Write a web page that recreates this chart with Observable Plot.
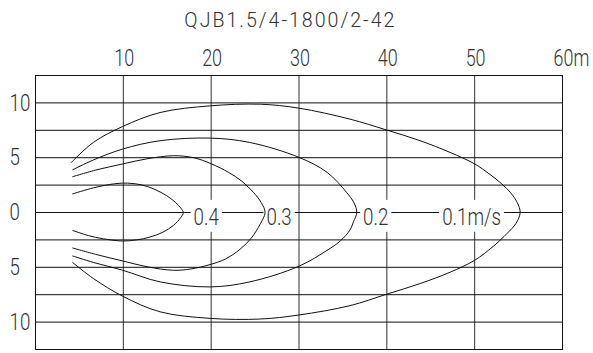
<!DOCTYPE html>
<html>
<head>
<meta charset="utf-8">
<script src="https://cdn.jsdelivr.net/npm/d3@7"></script>
<script src="https://cdn.jsdelivr.net/npm/@observablehq/plot@0.6"></script>
<style>
  html, body { margin: 0; padding: 0; background: #fff; }
  #title {
    width: 593px; height: 38px; box-sizing: border-box;
    padding: 10px 12px 0 0; text-align: center;
    font: 300 21px/21px Roboto, "DejaVu Sans", sans-serif; color: #333;
  }
  #title span { display: inline-block; letter-spacing: 0.1em; transform-origin: 50% 50%; }
  #chart svg { display: block; }
</style>
</head>
<body>
<div id="title"><span>QJB1.5/4-1800/2-42</span></div>
<div id="chart"></div>
<script>
// Horizontal throw (m) against lateral offset (m) of the velocity isolines,
// each traced from the upper-left end round the tip to the lower-left end
const v04 = [[4.24,1.7],[6.6,2.25],[9.0,2.62],[10.5,2.68],[12.2,2.5],[13.6,2.1],[14.9,1.55],[15.9,0.95],[16.55,0.4],[16.83,0],
             [16.55,-0.45],[15.7,-1.18],[14.5,-1.8],[13.04,-2.24],[11.5,-2.5],[9.93,-2.6],[7.72,-2.4],[6.0,-2.1],[4.24,-1.64]];
const v03 = [[4.24,3.27],[7.0,3.9],[9.93,4.43],[12.7,4.9],[15.7,5.18],[18.0,5.0],[20.0,4.45],[22.0,3.65],[23.5,2.85],[24.8,1.85],[25.7,0.9],[26.14,0],
             [25.6,-1.03],[24.6,-2.3],[23.3,-3.35],[21.6,-4.25],[19.87,-4.75],[17.7,-5.15],[15.7,-5.27],[12.7,-4.95],[9.93,-4.42],[7.0,-3.85],[4.24,-3.24]];
const v02 = [[4.24,3.9],[6.58,4.79],[9.93,5.79],[14.18,6.55],[19.87,6.79],[24.4,6.39],[30.0,5.03],[33.2,3.66],[35.4,1.85],[36.25,0.9],[36.58,0],
             [36.2,-0.85],[35.8,-1.6],[34.7,-2.6],[33.2,-3.45],[30.0,-4.9],[24.4,-6.33],[19.87,-6.79],[14.18,-6.33],[9.93,-5.27],[6.58,-4.55],[4.24,-3.97]];
const v01 = [[4.08,4.57],[6.58,6.39],[9.93,7.85],[14.18,9.12],[19.87,9.73],[25.6,9.88],[30.0,9.52],[35.8,8.52],[40.0,7.52],[43.8,6.55],[47.2,5.48],[50.0,4.43],[51.7,3.5],[53.1,2.6],[54.1,1.8],[54.85,0.9],[55.18,0],
             [54.7,-1.0],[53.7,-1.9],[52.1,-3.1],[50.0,-4.36],[47.2,-5.45],[43.8,-6.48],[40.0,-7.45],[35.8,-8.5],[30.0,-9.35],[25.6,-9.72],[19.87,-9.66],[14.18,-9.06],[9.93,-7.64],[6.6,-6.03],[4.24,-4.57]];

const levels = ["0.4", "0.3", "0.2", "0.1m/s"];
const levelLabelX = [18.0, 26.3, 37.3, 46.3];   // label start along the axis (m)

const xTicks = [10, 20, 30, 40, 50, 60];
const yTicks = [-10, -5, 0, 5, 10];
const xGrid = [10, 20, 30, 40, 50];
const yGrid = [-10, -7.5, -5, -2.5, 0, 2.5, 5, 7.5, 10];

const curves = [v04, v03, v02, v01];
const rows = curves.flatMap((pts, i) => pts.map(([x, y]) => ({level: levels[i], x, y})));
const labels = levels.map((text, i) => ({text, x: levelLabelX[i], y: 0}));

const font = "Roboto, 'DejaVu Sans', sans-serif";
const ink = "#333";
const narrow = 0.78;   // horizontal squeeze of the lettering

const chart = Plot.plot({
  width: 593,
  height: 315,
  marginTop: 37,
  marginRight: 31,
  marginBottom: 4,
  marginLeft: 35,
  x: {domain: [0, 60], label: null},
  y: {domain: [-12.5, 12.5], label: null},
  style: {fontFamily: font, fontSize: "24px", fontWeight: 300, color: ink, background: "#fff"},
  marks: [
    Plot.ruleX(xGrid, {stroke: "#333", strokeWidth: 1}),
    Plot.ruleY(yGrid, {stroke: "#111", strokeWidth: 1}),
    Plot.frame({stroke: "#111", strokeWidth: 1}),
    Plot.axisX(xTicks, {
      anchor: "top", label: null, tickSize: 0, tickPadding: 10,
      textAnchor: "start", dx: -9, fontSize: 23, fill: ink,
      tickFormat: (d) => d === 60 ? "60m" : String(d)
    }),
    Plot.axisY(yTicks, {
      anchor: "left", label: null, tickSize: 0, tickPadding: 0,
      textAnchor: "start", dx: -26, fontSize: 24, fill: ink,
      tickFormat: (d) => String(Math.abs(d))
    }),
    Plot.line(rows, {x: "x", y: "y", z: "level", curve: "catmull-rom", stroke: "#111", strokeWidth: 1}),
    Plot.text(labels, {x: "x", y: "y", text: "text", textAnchor: "start", dy: 5, fontSize: 24, fill: ink})
  ]
});

document.getElementById("chart").append(chart);

// narrow drafting-style lettering: squeeze each label about its own anchor
for (const t of chart.querySelectorAll("text")) {
  const tr = t.getAttribute("transform") || "";
  t.setAttribute("transform", `${tr} scale(${narrow},1)`.trim());
}

// clear the grid behind the isoline labels, keeping the curves on top
const svgBox = chart.getBoundingClientRect();
const labelGroup = chart.querySelector('g[aria-label="text"]');
const lineGroup = chart.querySelector('g[aria-label="line"]');
if (labelGroup && lineGroup) {
  for (const t of labelGroup.querySelectorAll("text")) {
    const b = t.getBoundingClientRect();
    const r = document.createElementNS("http://www.w3.org/2000/svg", "rect");
    r.setAttribute("x", b.left - svgBox.left - 3);
    r.setAttribute("y", b.top - svgBox.top - 3);
    r.setAttribute("width", b.width + 6);
    r.setAttribute("height", b.height + 4);
    r.setAttribute("fill", "#fff");
    chart.insertBefore(r, lineGroup);
  }
}

// title width
const span = document.querySelector("#title span");
const tw = span.getBoundingClientRect().width;
span.style.transform = `scaleX(${(212 / tw).toFixed(3)})`;
</script>
</body>
</html>
